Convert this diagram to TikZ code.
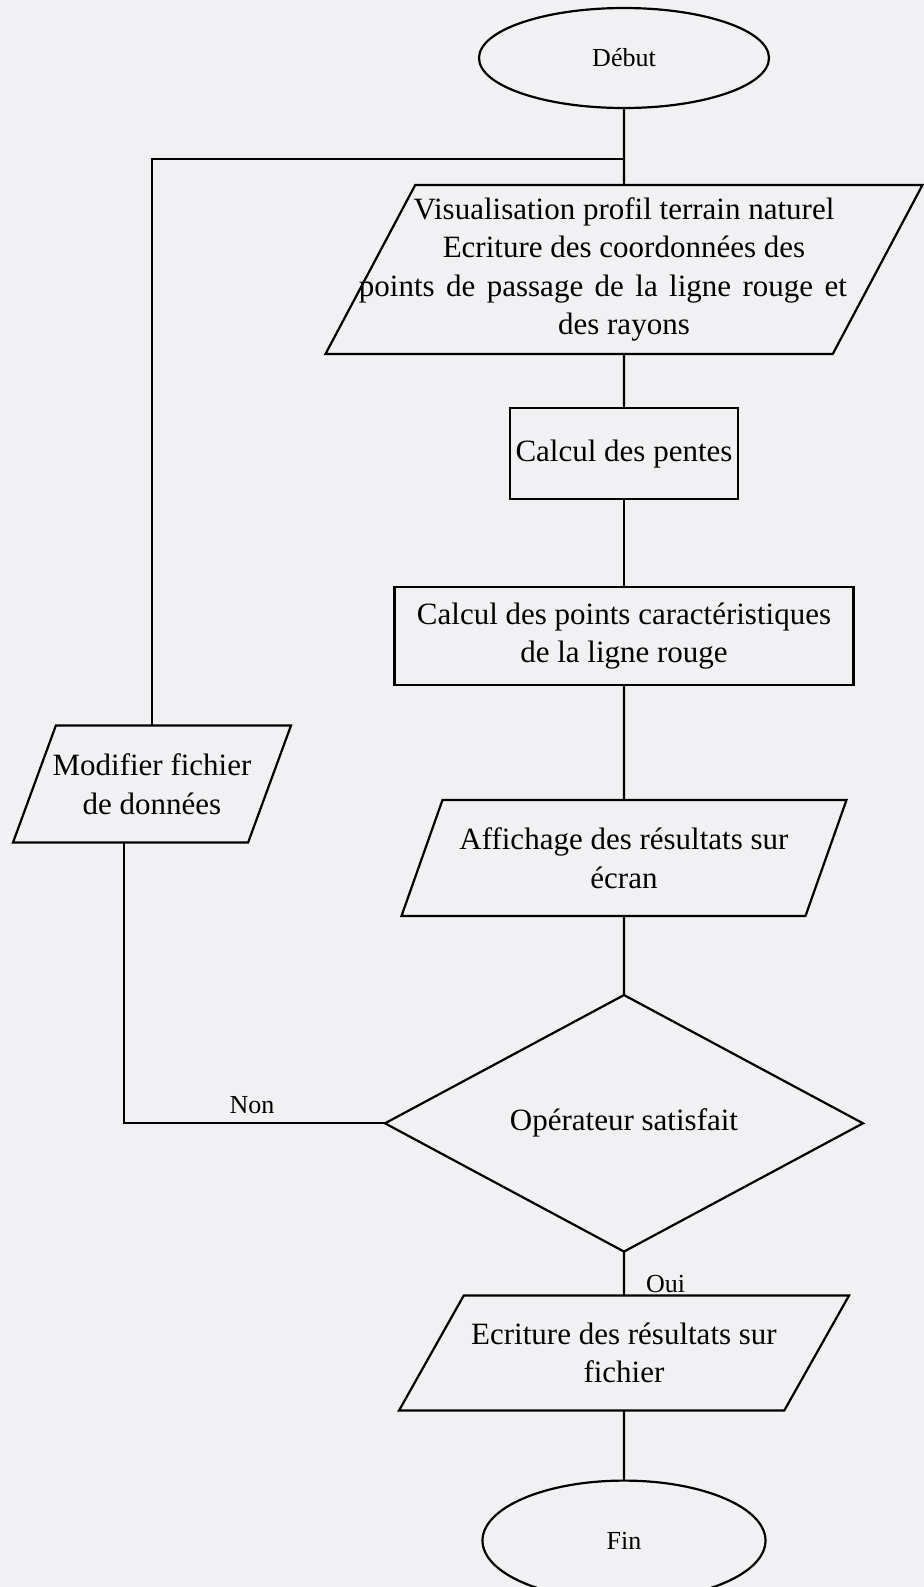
\documentclass[tikz,border=0pt]{standalone}
\usepackage{fontspec}
\setmainfont{Liberation Serif}
\usetikzlibrary{positioning, shapes.geometric}
\definecolor{paper}{RGB}{241,241,243}

\begin{document}
\begin{tikzpicture}[
    x=0.5pt, y=-0.5pt,
    every node/.style={outer sep=0pt},
    terminal/.style={ellipse, draw=black, line width=1.1pt, inner sep=0pt,
                     font=\fontsize{13}{15}\selectfont},
    process/.style={rectangle, draw=black, line width=1.1pt, align=center,
                    inner sep=2pt, font=\fontsize{15.5}{19.25}\selectfont},
    io/.style={trapezium, trapezium left angle=#1, trapezium right angle={180-#1},
               trapezium stretches body, draw=black, line width=1.1pt,
               align=center, font=\fontsize{15.5}{19.25}\selectfont},
    decision/.style={diamond, draw=black, line width=1.1pt, inner sep=0pt,
                     align=center, font=\fontsize{15.5}{19.25}\selectfont},
    answer/.style={inner sep=0pt, font=\fontsize{13}{15}\selectfont},
    relation/.style={line width=1.1pt}
]

\fill[paper] (0,0) rectangle (924,1587);
\useasboundingbox (0,0) rectangle (924,1587);

% Define steps
\node[terminal, minimum width=145pt, minimum height=50pt] (debut) at (624,58) {Début};
\node[io=60.3, minimum width=298.5pt, minimum height=84.5pt, inner xsep=-33pt,
      below=38.5pt of debut] (visu)
     {Visualisation profil terrain naturel\\ Ecriture des coordonnées des\\
      \makebox[265pt][l]{\makebox[244pt][s]{points de passage de la ligne rouge et}}\\ des rayons};
\node[process, minimum width=114pt, minimum height=45.5pt, below=27pt of visu] (pentes)
     {Calcul des pentes};
\node[process, minimum width=229.5pt, minimum height=49pt, below=44pt of pentes] (points)
     {Calcul des points caractéristiques\\ de la ligne rouge};
\node[io=61, minimum width=222.5pt, minimum height=58pt, below=57.5pt of points] (ecran)
     {Affichage des résultats sur\\ écran};
\node[decision, minimum width=239pt, minimum height=116.5pt, below=39.5pt of ecran] (test)
     {Opérateur satisfait};
\node[io=48.7, minimum width=225pt, minimum height=57.5pt, below=22pt of test] (fichier)
     {Ecriture des résultats sur\\ fichier};
\node[terminal, minimum width=141.5pt, minimum height=60pt, below=35pt of fichier] (fin)
     {Fin};
\node[io=59.9, minimum width=139pt, minimum height=58.5pt, inner xsep=-3pt] (modif) at (152,784)
     {Modifier fichier\\ de données};

% Relations
\coordinate[below=25.5pt of debut.south] (retour);
\draw[relation] (debut) -- (visu);
\draw[relation] (visu) -- (pentes);
\draw[relation] (pentes) -- (points);
\draw[relation] (points) -- (ecran);
\draw[relation] (ecran) -- (test);
\draw[relation] (test) -- node[answer, pos=0.73, right=11pt] {Oui} (fichier);
\draw[relation] (fichier) -- (fin);
\draw[relation] (modif.north) |- (retour);
\draw[relation] ([xshift=-14pt]modif.south) |- node[answer, pos=0.745, above=5pt] {Non} (test.west);

\end{tikzpicture}
\end{document}
